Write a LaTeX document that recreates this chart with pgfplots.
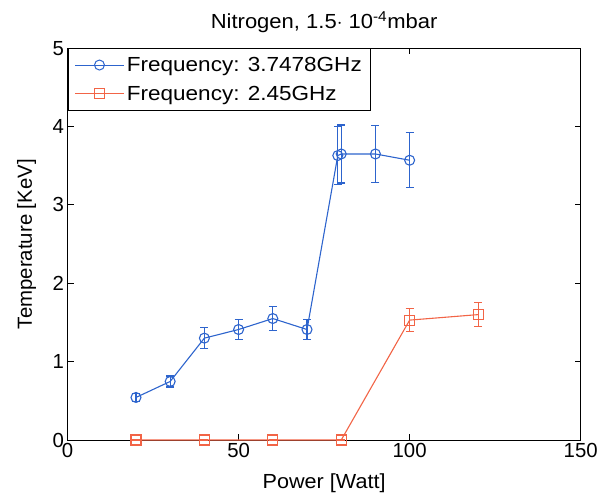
\documentclass[border=0pt]{standalone}
\usepackage{pgfplots}
\pgfplotsset{compat=1.18}
\usepackage{fontspec}
\setmainfont{Liberation Sans}
\newfontfamily\titlefont[FakeStretch=1.08]{Liberation Sans}
\newfontfamily\legfont[FakeStretch=1.105]{Liberation Sans}
\newfontfamily\semiwide[FakeStretch=1.06]{Liberation Sans}
\definecolor{mblue}{RGB}{45,100,205}
\definecolor{mred}{RGB}{242,100,70}
\newcommand{\ff}{\fontsize{20.5}{24}\selectfont}
\begin{document}
\begin{tikzpicture}
\begin{axis}[
  name=ax,
  scale only axis,
  width=514.3bp, height=392.7bp,
  xmin=0, xmax=150, ymin=0, ymax=5,
  xtick={0,50,100,150}, ytick={0,1,2,3,4,5},
  tick align=inside,
  major tick length=6bp,
  axis line style={line width=1bp},
  every tick/.style={black,line width=1bp},
  /pgf/number format/assume math mode=true,
  tick label style={font=\ff},
  clip=false,
  title={Nitrogen, 1.5$\cdot$ 10\textsuperscript{-4}mbar},
  title style={font=\titlefont\ff, at={(axis description cs:0.5,1.0349)}, anchor=base, inner sep=0pt},
  xlabel={Power [Watt]},
  xlabel style={font=\semiwide\ff, at={(axis description cs:0.5,-0.1248)}, anchor=base, inner sep=0pt},
  ylabel={Temperature [KeV]},
  ylabel style={font=\ff, at={(axis description cs:-0.0694,0.5)}, anchor=base, inner sep=0pt},
  legend style={font=\legfont\ff, at={(0,1)}, anchor=north west, draw=black, line width=1bp,
    inner xsep=6.5bp, inner ysep=2bp, row sep=0pt, column sep=0pt,
    nodes={inner xsep=2.5bp, inner ysep=6.5bp}},
  legend cell align=left,
  legend image code/.code={\draw[line width=1bp, mark repeat=2,mark phase=2] plot coordinates {(0bp,0bp) (24.5bp,0bp) (49bp,0bp)};},
]
\addplot[color=mblue, line width=1.1bp, mark=o, mark size=5bp,
  error bars/.cd, y dir=both, y explicit,
  error bar style={line width=1.1bp}, error mark options={rotate=90, mark size=4bp, line width=1.1bp}]
  table[x=x, y=y, y error=e] {
x y e
20 0.543 0.05
30 0.747 0.07
40 1.30 0.13
50 1.41 0.13
60 1.55 0.15
70 1.41 0.13
79 3.63 0.37
80 3.65 0.37
90 3.65 0.36
100 3.57 0.35
};
\addlegendentry{Frequency: 3.7478GHz}
\addplot[color=mred, line width=1.1bp, mark=square, mark size=5bp,
  error bars/.cd, y dir=both, y explicit,
  error bar style={line width=1.1bp}, error mark options={rotate=90, mark size=4bp, line width=1.1bp}]
  table[x=x, y=y, y error=e] {
x y e
20 0 0
40 0 0
60 0 0
80 0 0
100 1.53 0.15
120 1.60 0.15
};
\addlegendentry{Frequency: 2.45GHz}
\end{axis}
\path ([shift={(-67.7bp,-56bp)}]ax.south west) rectangle ([shift={(19bp,48.3bp)}]ax.north east);
\end{tikzpicture}
\end{document}
